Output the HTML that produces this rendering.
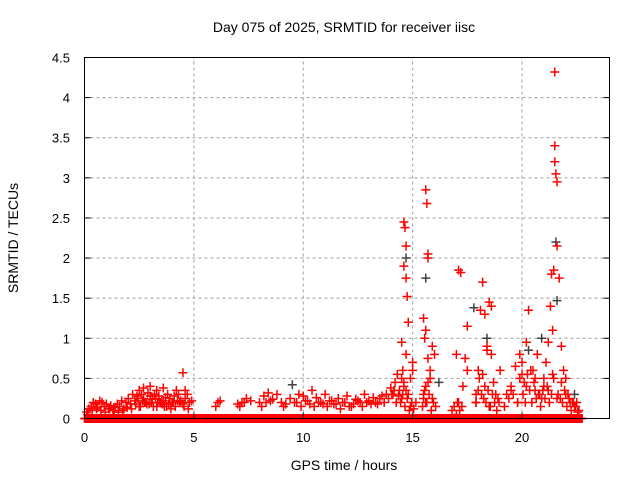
<!DOCTYPE html>
<html><head><meta charset="utf-8"><style>
body{margin:0;background:#fff;}
svg{display:block;font-family:"Liberation Sans",sans-serif;}
</style></head><body>
<svg id="chart" width="640" height="480">
<text x="344" y="32" font-size="14" text-anchor="middle">Day 075 of 2025, SRMTID for receiver iisc</text>
<text x="344" y="470" font-size="14" text-anchor="middle">GPS time / hours</text>
<text x="18" y="238" font-size="14" text-anchor="middle" transform="rotate(-90 18 238)">SRMTID / TECUs</text>
<g id="grid"></g><g id="marks"></g><g id="axes"></g>
</svg>
<script>
const xTicks=[0,5,10,15,20];
const yTicks=[0,0.5,1,1.5,2,2.5,3,3.5,4,4.5];
const yTickLabels=["0","0.5","1","1.5","2","2.5","3","3.5","4","4.5"];
const zeroTimes=[0,0.2,0.4,0.6,0.8,1,1.2,1.4,1.6,1.8,2,2.2,2.4,2.6,2.8,3,3.2,3.4,3.6,3.8,4,4.2,4.4,4.6,4.8,5,5.2,5.4,5.6,5.8,6,6.2,6.4,6.6,6.8,7,7.2,7.4,7.6,7.8,8,8.2,8.4,8.6,8.8,9,9.2,9.4,9.6,9.8,10,10.2,10.4,10.6,10.8,11,11.2,11.4,11.6,11.8,12,12.2,12.4,12.6,12.8,13,13.2,13.4,13.6,13.8,14,14.2,14.4,14.6,14.8,15,15.2,15.4,15.6,15.8,16,16.2,16.4,16.6,16.8,17,17.2,17.4,17.6,17.8,18,18.2,18.4,18.6,18.8,19,19.2,19.4,19.6,19.8,20,20.2,20.4,20.6,20.8,21,21.2,21.4,21.6,21.8,22,22.2,22.4,22.6];
const redTimes=[0.1,0.2,0.3,0.4,0.5,0.6,0.7,0.8,0.9,1.0,1.1,1.2,1.3,1.4,1.5,1.6,1.7,1.8,1.9,2.0,2.1,2.2,2.3,2.4,2.5,2.6,2.7,2.8,2.9,3.0,3.1,3.2,3.3,3.4,3.5,3.6,3.7,3.8,3.9,4.0,4.1,4.2,4.3,4.4,4.5,4.6,4.7,4.8,4.9,2.5,2.7,3.0,3.3,3.6,4.4,4.5,4.6,
6.0,6.1,6.2,7.0,7.2,7.4,7.6,8.0,8.2,8.4,8.6,8.8,9.0,9.2,9.4,9.6,9.8,10.0,10.2,10.4,10.6,10.8,11.0,11.2,11.4,11.6,11.8,12.0,12.2,12.4,12.6,12.8,13.0,13.2,13.4,13.6,13.8,14.0,14.1,14.2,14.3,
14.5,14.55,14.6,14.6,14.65,14.7,14.7,14.75,14.8,14.5,14.6,14.7,14.8,14.9,15.0,14.4,14.5,14.6,14.7,14.9,15.0,
15.5,15.6,15.6,15.65,15.7,15.7,15.5,15.55,15.6,15.7,15.8,15.9,15.5,15.6,15.7,15.8,16.0,15.9,
16.9,17.0,17.1,17.2,17.4,17.5,17.0,17.1,17.3,17.5,
17.9,18.0,18.1,18.2,18.3,18.4,18.5,18.6,18.0,18.2,18.4,18.6,18.8,17.9,18.3,18.5,18.7,18.9,19.0,
19.3,19.5,19.7,19.9,20.0,20.1,20.2,20.3,20.5,20.6,20.7,20.8,19.5,19.8,20.0,20.2,20.4,20.6,20.9,
21.0,21.1,21.2,21.3,21.35,21.4,21.45,21.5,21.5,21.5,21.55,21.6,21.6,21.7,21.8,21.9,22.0,21.0,21.2,21.4,21.6,21.8,22.0,22.2,22.4,22.5,22.6,22.3,22.1];
const redValues=[0.08,0.12,0.15,0.2,0.18,0.14,0.22,0.2,0.15,0.18,0.12,0.16,0.1,0.14,0.18,0.15,0.22,0.12,0.2,0.25,0.18,0.3,0.22,0.28,0.35,0.3,0.25,0.2,0.32,0.28,0.24,0.3,0.35,0.28,0.2,0.22,0.26,0.3,0.25,0.2,0.28,0.35,0.3,0.22,0.18,0.25,0.3,0.2,0.22,0.15,0.38,0.4,0.15,0.38,0.22,0.57,0.35,
0.15,0.2,0.22,0.18,0.2,0.25,0.22,0.2,0.28,0.32,0.24,0.3,0.2,0.18,0.25,0.2,0.3,0.28,0.22,0.35,0.26,0.2,0.3,0.22,0.18,0.25,0.2,0.28,0.15,0.24,0.2,0.3,0.22,0.26,0.18,0.28,0.3,0.38,0.3,0.45,0.55,0.5,
0.6,1.9,2.45,2.38,2.15,1.75,1.52,1.2,0.95,0.4,0.8,0.3,0.5,0.7,0.35,0.25,0.45,0.35,0.15,0.6,0.25,
0.4,2.85,2.68,2.05,2.0,1.25,1.0,1.1,0.75,0.6,0.9,0.3,0.2,0.45,0.5,0.8,0.25,0.15,
0.05,1.85,1.82,0.75,1.15,0.8,0.2,0.4,0.6,0.3,
0.35,1.35,1.7,1.3,0.85,1.45,1.4,0.6,0.55,0.9,0.8,0.3,0.2,0.4,0.15,0.45,0.25,0.6,0.3,
0.35,0.65,0.8,0.7,0.45,0.95,1.35,0.6,0.5,0.8,0.3,0.4,0.2,0.55,0.4,0.6,0.35,0.25,0.5,
0.7,0.95,1.4,1.8,1.1,1.85,4.32,3.4,3.2,3.05,2.95,2.15,1.75,0.9,0.6,0.5,0.4,0.35,0.55,0.25,0.45,0.3,0.2,0.15,0.2,0.1,0.2,0.3,0.15];
const extraTimes=[0.15,0.35,0.55,0.75,0.95,1.15,1.35,1.55,1.75,1.95,2.15,2.35,2.55,2.75,2.95,3.15,3.35,3.55,3.75,3.95,4.15,4.35,4.55,4.75,2.45,2.65,2.85,3.05,3.25,3.45,3.65,3.85,4.05,4.25,
7.1,7.3,8.1,8.3,8.5,9.1,9.7,9.9,10.1,10.3,10.5,10.7,10.9,11.1,11.3,11.5,11.7,11.9,12.1,12.3,12.5,12.7,12.9,13.1,13.3,13.5,13.7,13.9,14.05,14.15,14.25,14.35,
14.45,14.55,14.65,14.75,14.85,14.95,15.05,15.15,15.45,15.55,15.65,15.75,15.85,15.95,16.05,16.8,17.05,17.15,17.25,17.9,18.05,18.15,18.25,18.35,18.45,18.55,18.65,18.75,18.85,18.95,
19.2,19.4,19.6,19.8,19.9,20.05,20.15,20.25,20.35,20.45,20.55,20.65,20.75,20.85,20.95,21.05,21.15,21.25,21.35,21.45,21.65,21.75,21.85,21.95,22.05,22.15,22.25,22.35,22.45,22.55];
const extraValues=[0.05,0.1,0.12,0.1,0.08,0.12,0.1,0.08,0.1,0.14,0.12,0.18,0.15,0.2,0.18,0.15,0.2,0.18,0.15,0.12,0.15,0.2,0.15,0.12,0.25,0.22,0.18,0.2,0.25,0.2,0.15,0.18,0.2,0.22,
0.15,0.2,0.15,0.2,0.22,0.15,0.2,0.15,0.22,0.18,0.15,0.2,0.18,0.15,0.22,0.18,0.12,0.2,0.15,0.18,0.22,0.15,0.2,0.18,0.2,0.25,0.2,0.25,0.3,0.35,0.2,0.28,
0.2,0.3,0.15,0.25,0.1,0.2,0.12,0.2,0.15,0.35,0.2,0.3,0.1,0.2,0.15,0.1,0.2,0.1,0.15,0.2,0.5,0.3,0.25,0.2,0.35,0.15,0.3,0.2,0.1,0.2,
0.15,0.25,0.3,0.2,0.5,0.3,0.2,0.55,0.35,0.2,0.45,0.25,0.3,0.15,0.35,0.25,0.4,0.2,0.3,0.5,0.3,0.25,0.2,0.35,0.15,0.25,0.1,0.2,0.15,0.08];
const blackTimes=[9.5,14.7,15.6,16.2,17.8,18.4,20.3,20.9,21.55,21.6,22.4];
const blackValues=[0.42,2.0,1.75,0.45,1.38,1.0,0.85,1.0,2.2,1.47,0.3];
const X0=84.5,X1=609.5,Y0=418.5,Y1=57.5,XMAX=24,YMAX=4.5;
const xs=v=>X0+(X1-X0)*v/XMAX, ys=v=>Y0-(Y0-Y1)*v/YMAX;
const NS="http://www.w3.org/2000/svg";
function mk(tag,attrs,parent){const e=document.createElementNS(NS,tag);for(const k in attrs)e.setAttribute(k,attrs[k]);parent.appendChild(e);return e;}
const grid=document.getElementById('grid'),marks=document.getElementById('marks'),axes=document.getElementById('axes');
xTicks.forEach((t,i)=>{const x=xs(t);
 if(t>0){const g=mk('line',{x1:x,y1:Y0,x2:x,y2:Y1,stroke:'#a0a0a0','stroke-dasharray':'3,3'},grid);
 
 }
 const tk=mk('line',{x1:x,y1:Y0,x2:x,y2:Y0-6,stroke:'#000'},axes);
 
 
 const tx=mk('text',{x:x,y:442,'font-size':13,'text-anchor':'middle'},axes);tx.textContent=String(t);
 
 });
yTicks.forEach((t,i)=>{const y=ys(t);
 if(t>0&&t<YMAX){const g=mk('line',{x1:X0,y1:y,x2:X1,y2:y,stroke:'#a0a0a0','stroke-dasharray':'3,3'},grid);
 
 }
 const tk=mk('line',{x1:X0,y1:y,x2:X0+6,y2:y,stroke:'#000'},axes);
 
 
 const tk2=mk('line',{x1:X1,y1:y,x2:X1-6,y2:y,stroke:'#000'},axes);
 
 
 const tx=mk('text',{x:70,y:y+5,'font-size':13,'text-anchor':'end'},axes);tx.textContent=yTickLabels[i];
 
 });
function plus(x,y,c,name){const p=mk('path',{d:`M${x-4.5},${y}h9M${x},${y-4.5}v9`,stroke:c,'stroke-width':1.5,fill:'none'},marks);
 
 }
zeroTimes.forEach(t=>{for(let d=0;d<0.2;d+=0.05)plus(xs(t+d),ys(0),'#f00','zero-point');});
blackTimes.forEach((t,i)=>plus(xs(t),ys(blackValues[i]),'#404040','black-point'));
extraTimes.forEach((t,i)=>plus(xs(t),ys(extraValues[i]),'#f00','red-point'));
redTimes.forEach((t,i)=>plus(xs(t),ys(redValues[i]),'#f00','red-point'));
const frame=mk('rect',{x:X0,y:Y1,width:X1-X0,height:Y0-Y1,fill:'none',stroke:'#000'},axes);


</script>
</body></html>
